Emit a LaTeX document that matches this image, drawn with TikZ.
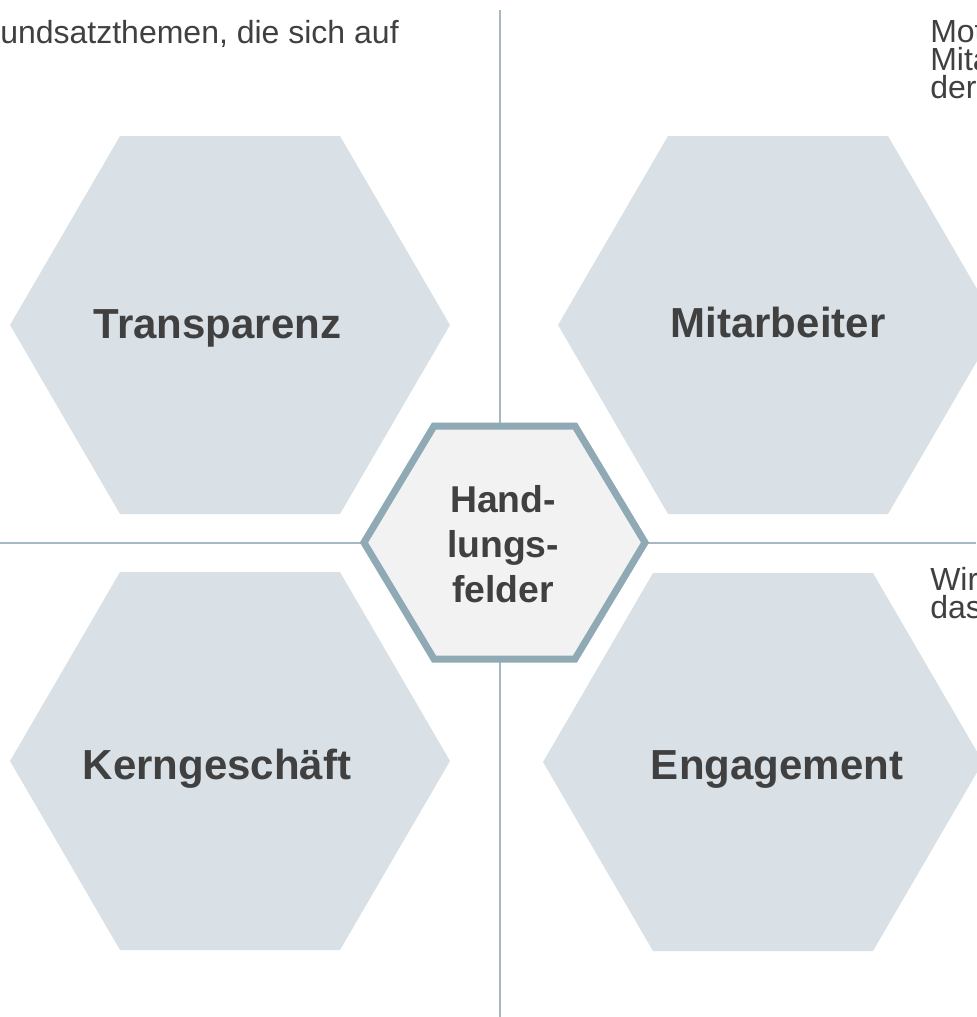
\documentclass[tikz,border=0pt]{standalone}
\usepackage{fontspec}
\setmainfont{Liberation Sans}
\definecolor{hexfill}{RGB}{217,225,230}
\definecolor{divline}{RGB}{165,184,196}
\definecolor{cstroke}{RGB}{143,169,181}
\definecolor{cfill}{RGB}{242,242,242}
\definecolor{txt}{RGB}{64,64,64}
\newcommand{\bighex}[2]{%
  \fill[hexfill] (#1-220,#2) -- (#1-110,#2-189) -- (#1+110,#2-189) -- (#1+220,#2) -- (#1+110,#2+189) -- (#1-110,#2+189) -- cycle;}
\begin{document}
\begin{tikzpicture}[x=0.75pt,y=-0.75pt,
  divider/.style={draw=divline,line width=1.5pt},
  biglabel/.style={anchor=base,inner sep=0pt,text=txt,font=\fontsize{31.5pt}{37pt}\selectfont\bfseries},
  centerlabel/.style={anchor=base,inner sep=0pt,text=txt,font=\fontsize{28pt}{33pt}\selectfont\bfseries},
  bodytext/.style={anchor=base west,inner sep=0pt,text=txt,font=\fontsize{24pt}{21pt}\selectfont},
  bodyblock/.style={anchor=north west,inner sep=0pt,align=left,text=txt,font=\fontsize{24pt}{21pt}\selectfont}]
\useasboundingbox (0,0) rectangle (976,1017);
% dividers
\coordinate (vtop) at (500,10);
\coordinate (vbot) at (500,1017);
\coordinate (hl) at (0,543);
\coordinate (hr) at (976,543);
\draw[divider] (vtop) -- (vbot);
\draw[divider] (hl) -- (hr);
% big hexagons
\bighex{230}{325}
\bighex{778}{325}
\bighex{230}{761}
\bighex{763}{762}
% central hexagon
\draw[fill=cfill,draw=cstroke,line width=5.25pt] (364,542.5) -- (434,426) -- (575,426) -- (645,542.5) -- (575,659) -- (434,659) -- cycle;
% labels
\node[biglabel] (t) at (217.5,338) {Transparenz};
\node[biglabel] (m) at (778,337) {Mitarbeiter};
\node[biglabel] (k) at (217,779) {Kerngeschäft};
\node[biglabel] (e) at (777,779) {Engagement};
\node[centerlabel] (h1) at (503,512) {Hand-};
\node[centerlabel] (h2) at (503,557) {lungs-};
\node[centerlabel] (h3) at (503,602) {felder};
% body texts
\node[bodytext] (intro) at (0,43) {undsatzthemen, die sich auf};
\node[bodyblock] (r) at (930,20) {Mot\\Mita\\der};
\node[bodyblock] (w) at (930,567) {Wir\\das};
\end{tikzpicture}
\end{document}
